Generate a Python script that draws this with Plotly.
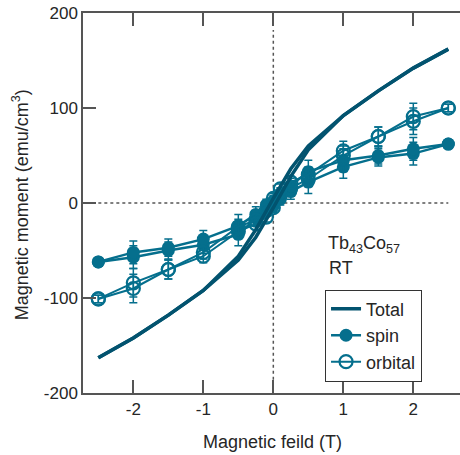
import plotly.graph_objects as go

# ---- data ----
field = [-2.5, -2, -1.5, -1, -0.5, -0.25, -0.1, 0, 0.1, 0.25, 0.5, 1, 1.5, 2, 2.5]
spin_up = [-62, -57, -50, -44, -33, -16, -8, -3, 4, 12, 22, 38, 48, 52, 62]
spin_dn = [-62, -52, -47, -38, -24, -12, -2, 2, 10, 18, 33, 45, 50, 57, 62]
spin_err = [4, 12, 9, 9, 12, 8, 6, 6, 6, 8, 12, 12, 9, 12, 4]
orb_up = [-101, -90, -70, -56, -30, -22, -15, -5, 8, 16, 25, 50, 70, 86, 100]
orb_dn = [-101, -84, -70, -52, -25, -18, -8, 5, 15, 22, 30, 55, 70, 91, 100]
orb_err = [4, 15, 10, 7, 8, 6, 5, 5, 5, 6, 8, 10, 10, 14, 4]

total_field = [-2.5, -2, -1.5, -1, -0.5, -0.25, 0, 0.25, 0.5, 1, 1.5, 2, 2.5]
total_up = [-163, -142, -118, -92, -60, -36, -5, 28, 56, 92, 118, 142, 162]
total_dn = [-163, -142, -118, -92, -56, -28, 5, 36, 60, 92, 118, 142, 162]

x_ticks = [-2, -1, 0, 1, 2]
x_ticktext = ["-2", "-1", "0", "1", "2"]
y_ticks = [-200, -100, 0, 100, 200]
y_ticktext = ["-200", "-100", "0", "100", "200"]
hline_extent = [-2.5, 2.5]
vline_extent = [-186, 182]

C_TOTAL = "#02536f"
C_SPIN = "#056f8d"
FONT = "Liberation Sans, Arial, sans-serif"
TXT = "#262626"

fig = go.Figure()

def rev(a):
    return list(reversed(a))

# spin
fig.add_trace(go.Scatter(x=field, y=spin_up, mode="lines+markers", name="spin",
                         legendgroup="spin", legendrank=2,
                         line=dict(color=C_SPIN, width=2.5),
                         marker=dict(symbol="circle", size=13, color=C_SPIN),
                         error_y=dict(type="data", array=spin_err, color=C_SPIN, thickness=1.5, width=4)))
fig.add_trace(go.Scatter(x=rev(field), y=rev(spin_dn), mode="lines+markers", name="spin",
                         legendgroup="spin", showlegend=False,
                         line=dict(color=C_SPIN, width=2.5),
                         marker=dict(symbol="circle", size=13, color=C_SPIN),
                         error_y=dict(type="data", array=rev(spin_err), color=C_SPIN, thickness=1.5, width=4)))
# orbital
fig.add_trace(go.Scatter(x=field, y=orb_up, mode="lines+markers", name="orbital",
                         legendgroup="orb", legendrank=3,
                         line=dict(color=C_SPIN, width=2),
                         marker=dict(symbol="circle-open", size=13, color=C_SPIN, line=dict(width=2.2)),
                         error_y=dict(type="data", array=orb_err, color=C_SPIN, thickness=1.5, width=4)))
fig.add_trace(go.Scatter(x=rev(field), y=rev(orb_dn), mode="lines+markers", name="orbital",
                         legendgroup="orb", showlegend=False,
                         line=dict(color=C_SPIN, width=2),
                         marker=dict(symbol="circle-open", size=13, color=C_SPIN, line=dict(width=2.2)),
                         error_y=dict(type="data", array=rev(orb_err), color=C_SPIN, thickness=1.5, width=4)))
# total
fig.add_trace(go.Scatter(x=total_field, y=total_up, mode="lines", name="Total",
                         legendgroup="tot", legendrank=1,
                         line=dict(color=C_TOTAL, width=3.5)))
fig.add_trace(go.Scatter(x=rev(total_field), y=rev(total_dn), mode="lines", name="Total",
                         legendgroup="tot", showlegend=False,
                         line=dict(color=C_TOTAL, width=3.5)))

# dotted zero lines
fig.add_shape(type="line", x0=hline_extent[0], x1=hline_extent[1], y0=0, y1=0,
              line=dict(color="#555555", width=1.5, dash="dot"), layer="below")
fig.add_shape(type="line", x0=0, x1=0, y0=vline_extent[0], y1=vline_extent[1],
              line=dict(color="#555555", width=1.5, dash="dot"), layer="below")

axis_common = dict(ticks="inside", ticklen=13, tickwidth=1.5, tickcolor="#555555",
                   showgrid=False, zeroline=False, showline=True, linecolor="#555555",
                   linewidth=1.5, tickfont=dict(family=FONT, size=17, color=TXT))

fig.update_layout(
    width=460, height=455,
    margin=dict(l=83, r=0, t=13, b=62),
    paper_bgcolor="white", plot_bgcolor="white",
    showlegend=True,
    legend=dict(x=0.642, y=0.272, xanchor="left", yanchor="top",
                bordercolor="#333333", borderwidth=1, bgcolor="white",
                font=dict(family=FONT, size=18, color=TXT),
                tracegroupgap=0, itemwidth=30),
    xaxis=dict(range=[-2.719, 2.667], tickvals=x_ticks, ticktext=x_ticktext,
               mirror="ticks", **axis_common),
    yaxis=dict(range=[-200, 200], tickvals=y_ticks, ticktext=y_ticktext,
               mirror=False, **axis_common),
    yaxis2=dict(range=[-200, 200], tickvals=y_ticks, overlaying="y", side="right",
                ticks="inside", ticklen=10, tickwidth=1.5, tickcolor="#555555",
                showticklabels=False, showgrid=False, zeroline=False, showline=False),
    annotations=[
        dict(text="Magnetic moment (emu/cm<sup>3</sup>)", xref="paper", yref="paper",
             x=-0.165, y=0.496, xanchor="center", yanchor="middle", textangle=-90,
             showarrow=False, font=dict(family=FONT, size=18, color=TXT)),
        dict(text="Magnetic feild (T)", xref="paper", yref="paper",
             x=0.503, y=-0.128, xanchor="center", yanchor="middle",
             showarrow=False, font=dict(family=FONT, size=18, color=TXT)),
        dict(text="Tb<sub>43</sub>Co<sub>57</sub>", xref="paper", yref="paper",
             x=0.645, y=0.39, xanchor="left", yanchor="middle",
             showarrow=False, font=dict(family=FONT, size=18, color=TXT)),
        dict(text="RT", xref="paper", yref="paper",
             x=0.648, y=0.33, xanchor="left", yanchor="middle",
             showarrow=False, font=dict(family=FONT, size=18, color=TXT)),
    ],
)

fig.write_html("out.html")
